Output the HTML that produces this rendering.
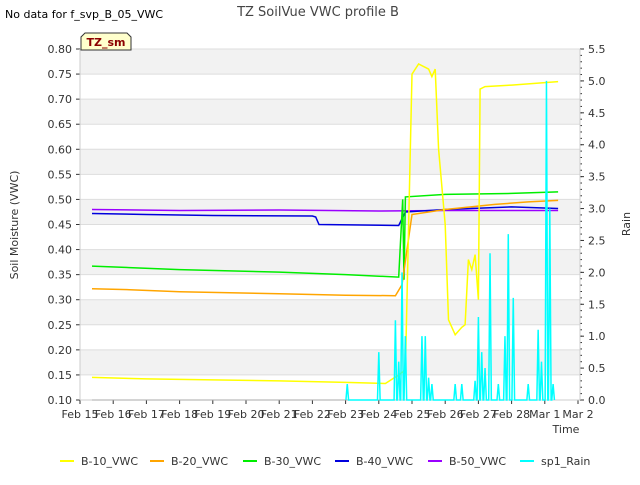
<!DOCTYPE html>
<html><head><meta charset="utf-8"><style>
body{margin:0;background:#fff;font-family:"Liberation Sans","DejaVu Sans",sans-serif}
svg text{font-family:"DejaVu Sans","Liberation Sans",sans-serif}
</style></head><body>
<svg id="c" width="640" height="480" xmlns="http://www.w3.org/2000/svg">
<text x="5" y="18" font-size="11">No data for f_svp_B_05_VWC</text>
<text x="318" y="16" font-size="13" fill="#444" text-anchor="middle">TZ SoilVue VWC profile B</text>
<g id="bands"></g><g id="axes"></g><g id="series"></g>
<g><path d="M81,50 L81,37 L85,33 L127,33 L131,37 L131,50 Z" fill="#ffffcc" stroke="#333"/><text x="106" y="46" font-size="11" font-weight="bold" fill="#8b0000" text-anchor="middle">TZ_sm</text></g>
<text x="18" y="225" font-size="11" fill="#333" text-anchor="middle" transform="rotate(-90 18 225)">Soil Moisture (VWC)</text>
<text x="630" y="224" font-size="11" fill="#333" text-anchor="middle" transform="rotate(-90 630 224)">Rain</text>
<text x="566" y="433" font-size="11" fill="#333" text-anchor="middle">Time</text>
<g id="legend"></g>
</svg>
<script>
const xTicks=["Feb 15","Feb 16","Feb 17","Feb 18","Feb 19","Feb 20","Feb 21","Feb 22","Feb 23","Feb 24","Feb 25","Feb 26","Feb 27","Feb 28","Mar 1","Mar 2"];
const yTicks=[0.10,0.15,0.20,0.25,0.30,0.35,0.40,0.45,0.50,0.55,0.60,0.65,0.70,0.75,0.80];
const y2Ticks=[0,0.5,1,1.5,2,2.5,3,3.5,4,4.5,5,5.5];
const b10Days=[0.36,2,4,6,8,9.2,9.6,9.8,10.0,10.2,10.5,10.6,10.7,10.8,11.0,11.1,11.3,11.5,11.6,11.7,11.8,11.9,12.0,12.05,12.2,13,14,14.4];
const b10Vals=[0.145,0.142,0.140,0.138,0.135,0.133,0.15,0.16,0.75,0.77,0.76,0.745,0.76,0.6,0.45,0.26,0.23,0.245,0.25,0.38,0.36,0.39,0.3,0.72,0.725,0.728,0.733,0.735];
const b20Days=[0.36,1.5,3,6,8,9.5,9.7,10.0,10.5,11,12.5,13.5,14.4];
const b20Vals=[0.322,0.32,0.316,0.312,0.309,0.308,0.33,0.47,0.475,0.48,0.49,0.495,0.498];
const b30Days=[0.36,1.5,3,6,8,9.6,9.72,9.76,9.8,11,13,14.4];
const b30Vals=[0.367,0.364,0.36,0.355,0.35,0.345,0.5,0.34,0.505,0.51,0.512,0.515];
const b40Days=[0.36,2,4,7,7.1,7.2,9.6,9.8,11,13,14.4];
const b40Vals=[0.472,0.47,0.468,0.467,0.465,0.45,0.448,0.475,0.48,0.485,0.482];
const b50Days=[0.36,3,6,9,11,14.4];
const b50Vals=[0.48,0.478,0.479,0.477,0.478,0.478];
const rainDays=[8.05,9.0,9.5,9.6,9.7,9.8,10.3,10.4,10.5,10.6,11.3,11.5,11.9,12.0,12.1,12.2,12.35,12.6,12.8,12.9,13.05,13.5,13.8,13.9,14.05,14.15,14.25];
const rainVals=[0.25,0.75,1.25,0.6,2.0,1.0,1.0,1.0,0.35,0.25,0.25,0.25,0.3,1.3,0.75,0.5,2.3,0.25,1.0,2.6,1.6,0.25,1.1,0.6,5.0,3.0,0.25];
const X0=80,DX=33.2,YT=49,YB=400;
const x=d=>X0+d*DX, y=v=>YB-(v-0.1)/0.7*(YB-YT), y2=v=>YB-v/5.5*(YB-YT);
const NS="http://www.w3.org/2000/svg";
function mk(p,t,a){const e=document.createElementNS(NS,t);for(const k in a)e.setAttribute(k,a[k]);document.getElementById(p).appendChild(e);return e;}
for(let i=0;i<yTicks.length-1;i++){if(i%2==1){const r=mk('bands','rect',{x:X0,y:y(yTicks[i+1]),width:500,height:y(yTicks[i])-y(yTicks[i+1]),fill:'#f2f2f2'});}}
yTicks.forEach(v=>{mk('bands','line',{x1:X0,x2:580,y1:y(v),y2:y(v),stroke:'#dddddd'});});
yTicks.forEach(v=>{mk('axes','line',{x1:X0-4,x2:X0,y1:y(v),y2:y(v),stroke:'#333'});const t=mk('axes','text',{x:X0-8,y:y(v)+4,'font-size':11,fill:'#333','text-anchor':'end'});t.textContent=v.toFixed(2);});
y2Ticks.forEach(v=>{mk('axes','line',{x1:580,x2:584,y1:y2(v),y2:y2(v),stroke:'#333'});const t=mk('axes','text',{x:588,y:y2(v)+4,'font-size':11,fill:'#333'});t.textContent=v.toFixed(1);});
for(let v=0.1;v<5.5;v+=0.1)mk('axes','line',{x1:580,x2:582,y1:y2(v),y2:y2(v),stroke:'#333'});
xTicks.forEach((s,i)=>{mk('axes','line',{x1:x(i),x2:x(i),y1:YB,y2:YB+4,stroke:'#333'});const t=mk('axes','text',{x:x(i),y:YB+18,'font-size':11,fill:'#333','text-anchor':'middle'});t.textContent=s;});
mk('axes','line',{x1:X0,x2:X0,y1:YT,y2:YB,stroke:'#ccc'});mk('axes','line',{x1:580,x2:580,y1:YT,y2:YB,stroke:'#ccc'});mk('axes','line',{x1:X0,x2:580,y1:YB,y2:YB,stroke:'#ccc'});
mk('series','line',{x1:x(0.36),x2:x(9.5),y1:YB,y2:YB,stroke:'#aaa'});
function line(ds,vs,col,name,fy){const pts=ds.map((d,i)=>x(d).toFixed(1)+','+fy(vs[i]).toFixed(1)).join(' ');const p=mk('series','polyline',{points:pts,fill:'none',stroke:col,'stroke-width':1.5});}
line(b50Days,b50Vals,'#9a00ff','b50-line',y);
line(b40Days,b40Vals,'#0000dd','b40-line',y);
line(b30Days,b30Vals,'#00ee00','b30-line',y);
line(b20Days,b20Vals,'#ffa500','b20-line',y);
line(b10Days,b10Vals,'#ffff00','b10-line',y);
{let pts=[];rainDays.forEach((d,i)=>{pts.push(x(d-0.04)+','+y2(0));pts.push(x(d)+','+y2(rainVals[i]));pts.push(x(d+0.04)+','+y2(0));});const p=mk('series','polyline',{points:pts.join(' '),fill:'none',stroke:'#00ffff','stroke-width':1.5});}
const leg=[["B-10_VWC","#ffff00",60],["B-20_VWC","#ffa500",150],["B-30_VWC","#00ee00",243],["B-40_VWC","#0000dd",335],["B-50_VWC","#9a00ff",428],["sp1_Rain","#00ffff",520]];
leg.forEach(l=>{mk('legend','line',{x1:l[2],x2:l[2]+14,y1:461,y2:461,stroke:l[1],'stroke-width':2});const t=mk('legend','text',{x:l[2]+21,y:465,'font-size':11,fill:'#333'});t.textContent=l[0];});
</script>
</body></html>
